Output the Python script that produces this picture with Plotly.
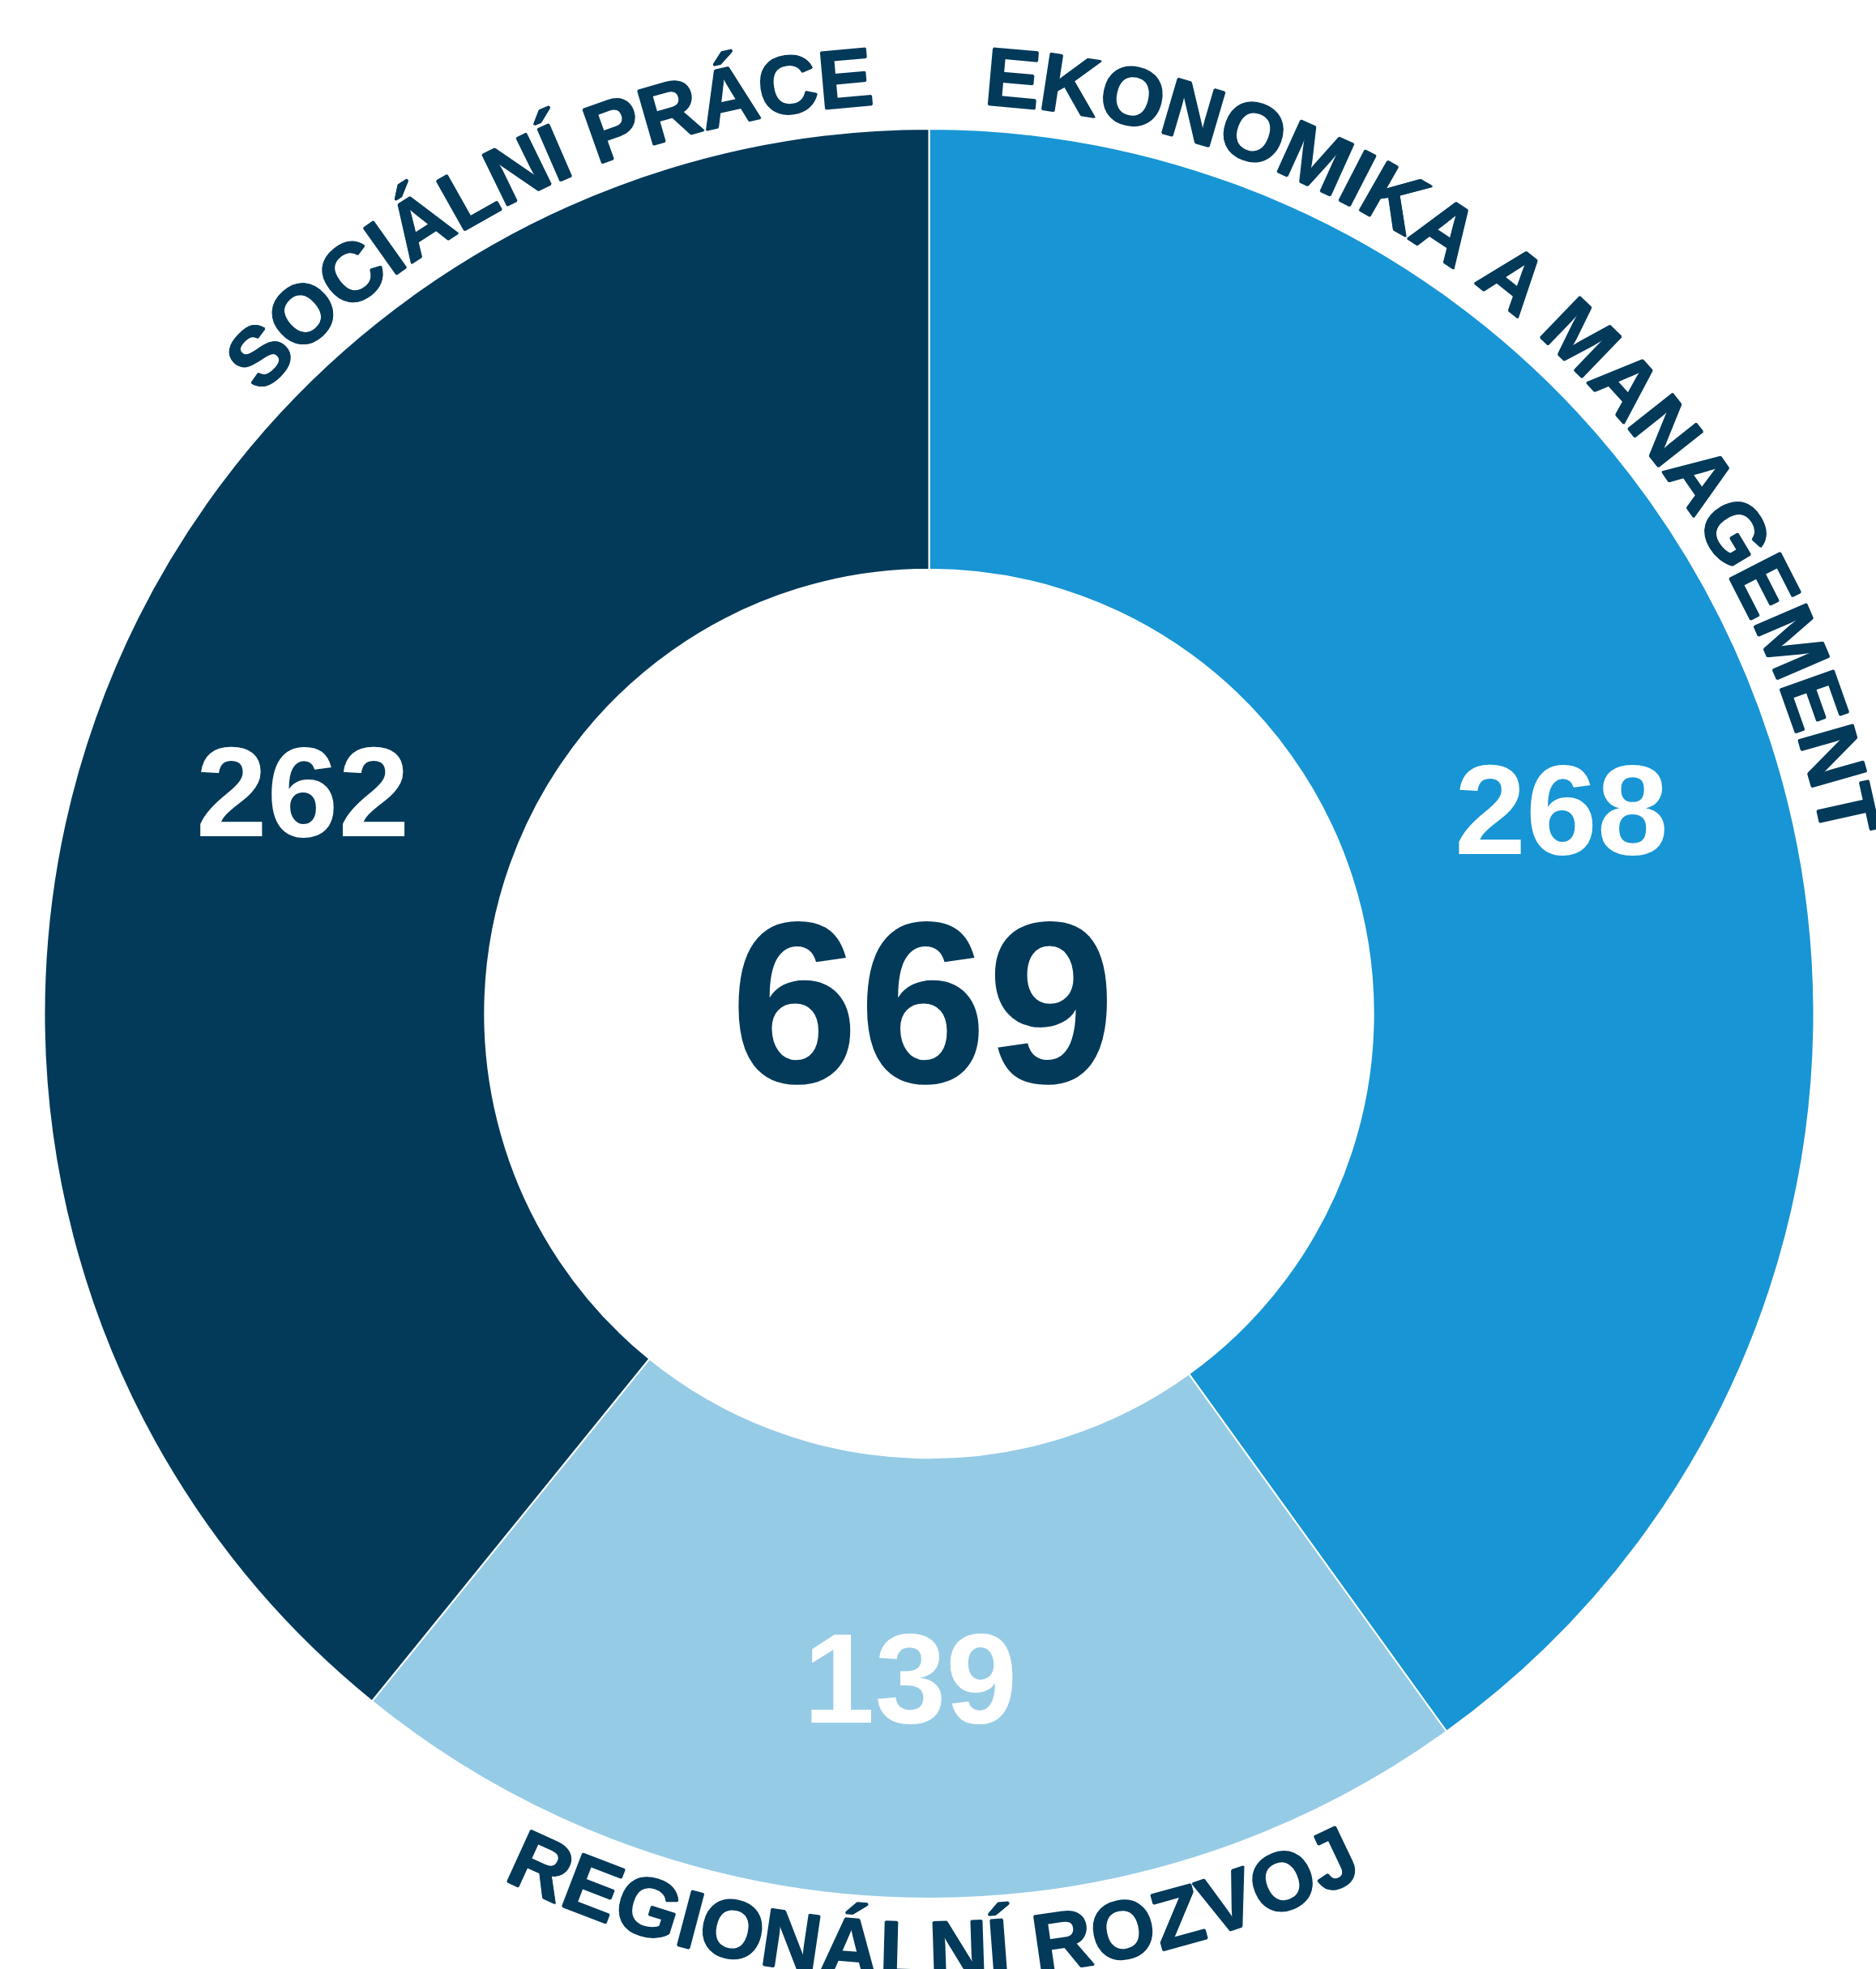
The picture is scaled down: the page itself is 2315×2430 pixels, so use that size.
import plotly.graph_objects as go
import math

# ---- data ----
categories = ["EKONOMIKA A MANAGEMENT", "REGIONÁLNÍ ROZVOJ", "SOCIÁLNÍ PRÁCE"]
values = [268, 139, 262]
colors = ["#1895d4", "#96cbe6", "#033a5a"]

W, H = 2315, 2430
CX, CY, R_OUT = 1146.5, 1251.0, 1092.0
HOLE = 0.502
NAVY = "#033a5a"
FONT = "Arial, Liberation Sans, Helvetica, sans-serif"

fig = go.Figure()
fig.add_trace(go.Pie(
    labels=categories,
    values=values,
    sort=False,
    direction="clockwise",
    rotation=0,
    hole=HOLE,
    marker=dict(colors=colors, line=dict(color="white", width=2)),
    texttemplate="%{value}",
    textposition="inside",
    insidetextorientation="horizontal",
    textfont=dict(family=FONT, size=158, color="white", weight="bold"),
    domain=dict(x=[(CX - R_OUT) / W, (CX + R_OUT) / W],
                y=[1 - (CY + R_OUT) / H, 1 - (CY - R_OUT) / H]),
    showlegend=False,
    hoverinfo="label+value",
))

# center total
fig.add_annotation(
    x=(CX - 8) / W, y=1 - (CY - 14) / H, xref="paper", yref="paper",
    text=str(sum(values)), showarrow=False,
    font=dict(family=FONT, size=285, color=NAVY, weight="bold"),
    xanchor="center", yanchor="middle",
)

# ---- curved labels ----
WID = {"A": 722, "Á": 722, "C": 722, "E": 667, "G": 778, "I": 278, "Í": 278,
       "J": 556, "K": 722, "L": 611, "M": 833, "N": 722, "O": 778, "P": 667,
       "R": 722, "S": 667, "T": 611, "V": 667, "Z": 611, " ": 278}
LABEL_SIZE = 102
GAP = 3.4
THICK = "1px 0 0 %s, -1px 0 0 %s, 0 1px 0 %s, 0 -1px 0 %s" % ((NAVY,) * 4)


def text_width(s):
    return sum(WID.get(c, 700) for c in s) / 1000.0


def place(s, start_deg, sign, radius, deg_per_em):
    # sign=+1: clockwise reading (top, letters outward); sign=-1: bottom, letters inward
    adv = 0.0
    for ch in s:
        w = WID.get(ch, 700) / 1000.0
        th = start_deg + sign * (adv + w / 2) * deg_per_em
        adv += w
        if ch == " ":
            continue
        t = math.radians(th)
        x = CX + radius * math.sin(t)
        y = CY - radius * math.cos(t)
        ang = th if sign > 0 else th - 180
        fig.add_annotation(
            x=x / W, y=1 - y / H, xref="paper", yref="paper",
            text=ch, showarrow=False, textangle=ang,
            xanchor="center", yanchor="middle", borderpad=0,
            font=dict(family=FONT, size=LABEL_SIZE, color=NAVY, weight="bold",
                      shadow=THICK),
        )


TOP_DPE = 5.12
BOT_DPE = 4.98
# EKONOMIKA A MANAGEMENT: starts just clockwise of the top
place(categories[0], GAP, +1, 1159, TOP_DPE)
# SOCIÁLNÍ PRÁCE: ends just counter-clockwise of the top
place(categories[2], 360 - GAP - text_width(categories[2]) * TOP_DPE, +1, 1159, TOP_DPE)
# REGIONÁLNÍ ROZVOJ: centred at the bottom, reading left to right
place(categories[1], 179.7 + text_width(categories[1]) * BOT_DPE / 2, -1, 1156, BOT_DPE)

fig.update_layout(
    width=W, height=H,
    margin=dict(l=0, r=0, t=0, b=0),
    paper_bgcolor="white", plot_bgcolor="white",
)

fig.write_html("out.html")
